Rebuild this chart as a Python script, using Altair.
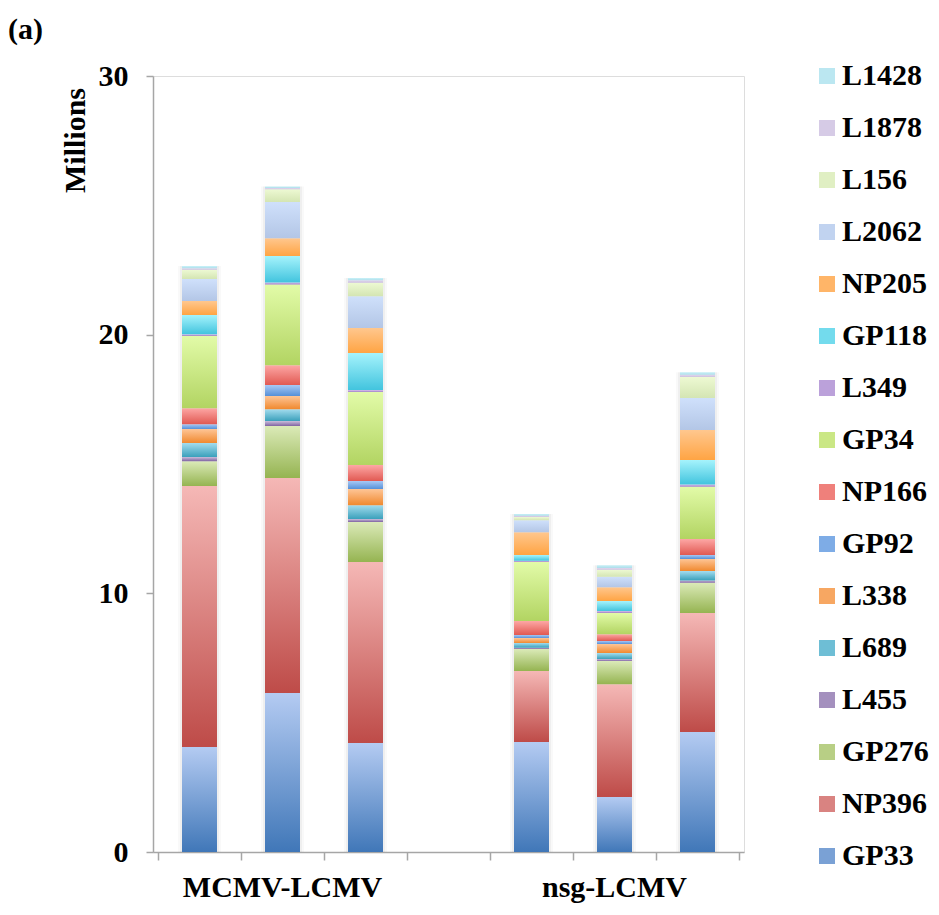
import altair as alt
import pandas as pd

series = ["GP33", "NP396", "GP276", "L455", "L689", "L338", "GP92", "NP166",
          "GP34", "L349", "GP118", "NP205", "L2062", "L156", "L1878", "L1428"]

# gradient colours (top, bottom) per series
top_colors = ["#b4cbf2", "#f5b8b6", "#dbeab8", "#c9bddb", "#a3dcee", "#fec596",
              "#a8c8f4", "#fda7a5", "#e2fba8", "#d8c3f0", "#a5f3fc", "#ffc78e",
              "#cfe0fb", "#edf9d3", "#e2d8f0", "#c9f2f9"]
bottom_colors = ["#4077b8", "#be4b48", "#95b451", "#8064a2", "#3aa0bb", "#f0892f",
                 "#5590d8", "#e15952", "#b2d462", "#9f80c4", "#42c4de", "#ffa443",
                 "#b3c6e6", "#d4e5b3", "#cbbfdd", "#addde9"]
legend_colors = ["#7aa1d5", "#d98381", "#b8cf85", "#a490be", "#6ebed5", "#f7a762",
                 "#7eace6", "#ef807b", "#cae785", "#bba1da", "#73dbed", "#ffb568",
                 "#c1d3f0", "#e0efc3", "#d6cbe6", "#bbe7f1"]

groups = ["MCMV-LCMV", "nsg-LCMV"]
bar_group = [0, 0, 0, 1, 1, 1]
bar_pos = [1, 2, 3, 5, 6, 7]

# values in millions, order as in `series`
bar1 = [4.06, 10.09, 0.96, 0.16, 0.54, 0.54, 0.19, 0.62, 2.79, 0.07, 0.74, 0.54, 0.85, 0.36, 0.06, 0.08]
bar2 = [6.15, 8.31, 2.01, 0.19, 0.46, 0.51, 0.42, 0.77, 3.12, 0.08, 1.02, 0.69, 1.40, 0.49, 0.05, 0.06]
bar3 = [4.21, 7.00, 1.55, 0.11, 0.54, 0.62, 0.31, 0.62, 2.82, 0.08, 1.43, 0.97, 1.23, 0.52, 0.09, 0.09]
bar4 = [4.25, 2.75, 0.85, 0.05, 0.18, 0.19, 0.12, 0.54, 2.28, 0.05, 0.22, 0.88, 0.47, 0.12, 0.05, 0.07]
bar5 = [2.13, 4.36, 0.89, 0.08, 0.23, 0.35, 0.12, 0.26, 0.82, 0.08, 0.38, 0.54, 0.40, 0.27, 0.07, 0.11]
bar6 = [4.64, 4.60, 1.17, 0.09, 0.36, 0.47, 0.15, 0.62, 2.02, 0.09, 0.94, 1.16, 1.24, 0.81, 0.09, 0.10]
bars = [bar1, bar2, bar3, bar4, bar5, bar6]

rows = []
for b, vals in enumerate(bars):
    for i, s in enumerate(series):
        rows.append({"pos": bar_pos[b], "group": groups[bar_group[b]],
                     "series": s, "order": i, "value": vals[i]})
df = pd.DataFrame(rows)

gdf = pd.DataFrame({
    "group": groups,
    "center": [sum(p for p, g in zip(bar_pos, bar_group) if g == k) / bar_group.count(k)
               for k in range(len(groups))],
})

W, H = 591, 776
FONT = "Liberation Serif"
GRAY = "#a6a6a6"

x_enc = alt.X("pos:Q",
              scale=alt.Scale(domain=[0.5, 7.5], nice=False, zero=False),
              axis=alt.Axis(values=[0.5, 1.5, 2.5, 3.5, 4.5, 5.5, 6.5, 7.5],
                            labels=False, title=None, grid=False, tickSize=8,
                            tickColor=GRAY, domainColor=GRAY, tickWidth=1.5,
                            domainWidth=1.5))
y_scale = alt.Scale(domain=[0, 30], nice=False)
y_axis = alt.Axis(values=[0, 10, 20, 30], title="Millions", grid=False,
                  tickSize=7, tickColor=GRAY, domainColor=GRAY, tickWidth=1.5,
                  domainWidth=1.5, labelFontSize=30, labelFontWeight="bold",
                  labelColor="black", labelPadding=18, labelFont=FONT,
                  titleFont=FONT, titleFontSize=30, titleFontWeight="bold",
                  titleColor="black", titleAngle=270, titleX=-78, titleY=64,
                  titleAlign="center", titleBaseline="middle")

base = alt.Chart(df)

shadow1 = base.mark_bar(size=43, color="#000000", opacity=0.025).encode(
    x=x_enc, y=alt.Y("sum(value):Q", scale=y_scale, axis=y_axis))
shadow2 = base.mark_bar(size=39, color="#000000", opacity=0.04).encode(
    x=x_enc, y=alt.Y("sum(value):Q", scale=y_scale, axis=y_axis))

layers = [shadow1, shadow2]
for i, s in enumerate(series):
    grad = alt.LinearGradient(
        gradient="linear", x1=0, x2=0, y1=0, y2=1,
        stops=[alt.GradientStop(color=top_colors[i], offset=0),
               alt.GradientStop(color=bottom_colors[i], offset=1)])
    layer = (base
             .transform_stack(stack="value", groupby=["pos"], as_=["y0", "y1"],
                              sort=[alt.SortField("order", order="ascending")])
             .transform_filter(alt.datum.series == s)
             .mark_bar(size=35, color=grad)
             .encode(x=x_enc,
                     y=alt.Y("y0:Q", scale=y_scale, axis=y_axis),
                     y2="y1:Q"))
    layers.append(layer)

legend_layer = base.mark_point(shape="square", filled=True, opacity=0).encode(
    x=x_enc,
    y=alt.Y("value:Q", scale=y_scale, axis=y_axis),
    color=alt.Color("series:N",
                    scale=alt.Scale(domain=series[::-1], range=legend_colors[::-1]),
                    legend=alt.Legend(title=None, orient="none", legendX=659,
                                      legendY=-15, symbolType="square",
                                      symbolSize=256, symbolOpacity=1,
                                      symbolStrokeWidth=0, labelFont=FONT,
                                      labelFontSize=30, labelFontWeight="bold",
                                      labelColor="black", labelOffset=0,
                                      rowPadding=22, labelLimit=300)))
layers.append(legend_layer)

group_text = alt.Chart(gdf).mark_text(
    font=FONT, fontSize=30, fontWeight="bold", color="black", baseline="alphabetic"
).encode(x=alt.X("center:Q", scale=alt.Scale(domain=[0.5, 7.5], nice=False, zero=False)),
         y=alt.value(H + 45), text="group:N")
layers.append(group_text)

panel_text = alt.Chart(pd.DataFrame({"t": ["(a)"]})).mark_text(
    font=FONT, fontSize=30, fontWeight="bold", color="black", align="left",
    baseline="alphabetic").encode(x=alt.value(-145), y=alt.value(-37), text="t:N")
layers.append(panel_text)

chart = alt.layer(*layers).properties(
    width=W, height=H,
    autosize=alt.AutoSizeParams(type="none"),
    padding={"left": 145, "top": 68, "right": 185, "bottom": 52},
).configure_view(stroke=None).configure(font=FONT)

chart.save("out.html", embed_options={"renderer": "svg", "actions": False})
